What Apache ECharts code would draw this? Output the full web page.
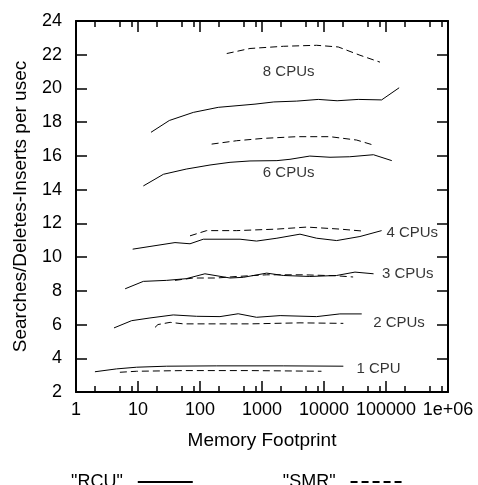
<!DOCTYPE html>
<html>
<head>
<meta charset="utf-8">
<script src="https://cdn.jsdelivr.net/npm/echarts@6/dist/echarts.min.js"></script>
<style>
html,body{margin:0;padding:0;background:#fff;}
#chart{width:478px;height:485px;}
</style>
</head>
<body>
<div id="chart"></div>
<script>
// ---- data (x = memory footprint, y = searches/deletes-inserts per usec) ----
const rcu1 = [[2.02,3.2],[4.5,3.37],[9.5,3.47],[29,3.53],[186,3.55],[2200,3.55],[20500,3.53]];
const smr1 = [[5.1,3.17],[9.5,3.23],[54,3.27],[640,3.27],[9100,3.23]];
const rcu2 = [[4.1,5.8],[7.9,6.23],[15.6,6.39],[37,6.57],[88,6.49],[210,6.47],[413,6.64],[817,6.43],[1960,6.53],[7600,6.47],[18000,6.63],[40600,6.63]];
const smr2 = [[18.8,5.83],[21,6.0],[33,6.13],[54,6.04],[640,6.04],[4100,6.1],[20500,6.07]];
const rcu3 = [[6.2,8.12],[12.2,8.56],[29,8.62],[60,8.72],[120,9.01],[305,8.76],[500,8.8],[1190,9.05],[2200,8.91],[5900,8.85],[16000,8.91],[31600,9.11],[63000,9.01]];
const smr3 = [[39.5,8.62],[78,8.76],[186,8.76],[390,8.85],[1190,8.95],[4650,8.95],[16000,8.89],[29500,8.82]];
const rcu4 = [[8.2,10.47],[15.6,10.63],[39.5,10.86],[69,10.79],[113,11.06],[442,11.06],[817,10.95],[1740,11.12],[4100,11.36],[7600,11.12],[16000,10.98],[38000,11.22],[85000,11.57]];
const smr4 = [[69,11.26],[128,11.57],[390,11.57],[1740,11.66],[5270,11.78],[18000,11.66],[43000,11.54]];
const rcu6 = [[12.2,14.22],[25.7,14.91],[60,15.22],[145,15.46],[305,15.62],[640,15.7],[1740,15.72],[2830,15.8],[5900,15.99],[12500,15.92],[26000,15.95],[62700,16.07],[124000,15.72]];
const smr6 = [[154,16.7],[390,16.9],[1050,17.04],[3620,17.14],[12500,17.14],[33600,16.94],[63000,16.64]];
const rcu8 = [[16.2,17.4],[32,18.1],[78,18.58],[197,18.88],[771,19.07],[1550,19.2],[3630,19.25],[8100,19.35],[16300,19.27],[35700,19.35],[85000,19.32],[163000,20.04]];
const smr8 = [[270,22.07],[640,22.37],[2210,22.5],[7600,22.56],[17000,22.46],[38000,21.97],[80000,21.56]];

const cpuLabels = ['8 CPUs','6 CPUs','4 CPUs','3 CPUs','2 CPUs','1 CPU'];
const cpuLabelX = [2690, 2690, 265000, 224000, 162000, 76000];
const cpuLabelY = [20.98, 15.0, 11.42, 9.01, 6.09, 3.37];

const xTickValues = [1, 10, 100, 1000, 10000, 100000, 1000000];
const xTickLabels = ['1', '10', '100', '1000', '10000', '100000', '1e+06'];
const xMinorTicks = [2,5,8,20,50,80,200,500,800,2000,5000,8000,20000,50000,80000,200000,500000,800000];
const yTicks = [2,4,6,8,10,12,14,16,18,20,22,24];

const legendNames = ['RCU', 'SMR'];
// -------------------------------------------------------------------------

const FONT = '"Liberation Sans", Arial, Helvetica, sans-serif';
const AXIS_COLOR = '#000';

function xAxisDef(pos, values, len, withLine, withLabels) {
  return {
    type: 'log', logBase: 10, min: 1, max: 1000000, position: pos,
    axisLine: { show: withLine, onZero: false, lineStyle: { color: AXIS_COLOR, width: 2 } },
    axisTick: { show: true, inside: true, length: len, customValues: values,
                lineStyle: { color: AXIS_COLOR, width: 1.5 } },
    axisLabel: withLabels ? {
      show: true, customValues: xTickValues, margin: 9, fontSize: 18, color: '#000',
      fontFamily: FONT, hideOverlap: false,
      formatter: function (v) {
        const i = xTickValues.findIndex(t => Math.abs(Math.log10(t) - Math.log10(v)) < 1e-6);
        return i >= 0 ? xTickLabels[i] : '';
      }
    } : { show: false },
    splitLine: { show: false },
    minorTick: { show: false },
    name: withLabels ? 'Memory Footprint' : '',
    nameLocation: 'middle', nameGap: 39,
    nameTextStyle: { fontSize: 19, color: '#000', fontFamily: FONT }
  };
}

function yAxisDef(pos, withLabels) {
  return {
    type: 'value', min: 2, max: 24, interval: 2, position: pos,
    axisLine: { show: true, onZero: false, lineStyle: { color: AXIS_COLOR, width: 2 } },
    axisTick: { show: true, inside: true, length: 11, lineStyle: { color: AXIS_COLOR, width: 1.5 } },
    axisLabel: withLabels ? { show: true, margin: 14, fontSize: 18, color: '#000', fontFamily: FONT,
      customValues: yTicks } : { show: false },
    splitLine: { show: false },
    name: withLabels ? 'Searches/Deletes-Inserts per usec' : '',
    nameLocation: 'middle', nameGap: 46,
    nameTextStyle: { fontSize: 19, color: '#000', fontFamily: FONT }
  };
}

function lineSeries(name, data, dashed) {
  return {
    name: name, type: 'line', data: data, xAxisIndex: 0, yAxisIndex: 0,
    symbol: 'none', showSymbol: false, smooth: false, silent: true,
    lineStyle: { color: '#000', width: 1, type: dashed ? [7, 4] : 'solid' },
    itemStyle: { color: '#000' },
    emphasis: { disabled: true }
  };
}

const rcuSets = [rcu1, rcu2, rcu3, rcu4, rcu6, rcu8];
const smrSets = [smr1, smr2, smr3, smr4, smr6, smr8];

const series = [];
rcuSets.forEach(d => series.push(lineSeries(legendNames[0], d, false)));
smrSets.forEach(d => series.push(lineSeries(legendNames[1], d, true)));
series.push({
  name: 'labels', type: 'scatter', xAxisIndex: 0, yAxisIndex: 0, silent: true,
  symbolSize: 0,
  data: cpuLabels.map((t, i) => [cpuLabelX[i], cpuLabelY[i], t]),
  label: { show: true, position: 'inside', formatter: p => p.data[2],
           fontSize: 15, color: '#000', fontFamily: FONT },
  emphasis: { disabled: true }
});

const chart = echarts.init(document.getElementById('chart'), null, { renderer: 'canvas' });
chart.setOption({
  animation: false,
  backgroundColor: '#fff',
  textStyle: { fontFamily: FONT },
  grid: { left: 76, right: 30, top: 21, bottom: 93, containLabel: false },
  legend: {
    data: legendNames, left: 66, top: 468, align: 'right', orient: 'horizontal',
    itemWidth: 55, itemHeight: 14, itemGap: 89, selectedMode: false,
    formatter: '"{name}"',
    itemStyle: { opacity: 0 },
    textStyle: { fontSize: 18, color: '#000', fontFamily: FONT, padding: [0, 10, 0, 0] }
  },
  xAxis: [
    xAxisDef('bottom', xTickValues, 11, true, true),
    xAxisDef('top', xTickValues, 11, true, false),
    xAxisDef('bottom', xMinorTicks, 6, false, false),
    xAxisDef('top', xMinorTicks, 6, false, false)
  ],
  yAxis: [ yAxisDef('left', true), yAxisDef('right', false) ],
  series: series
});
</script>
</body>
</html>
